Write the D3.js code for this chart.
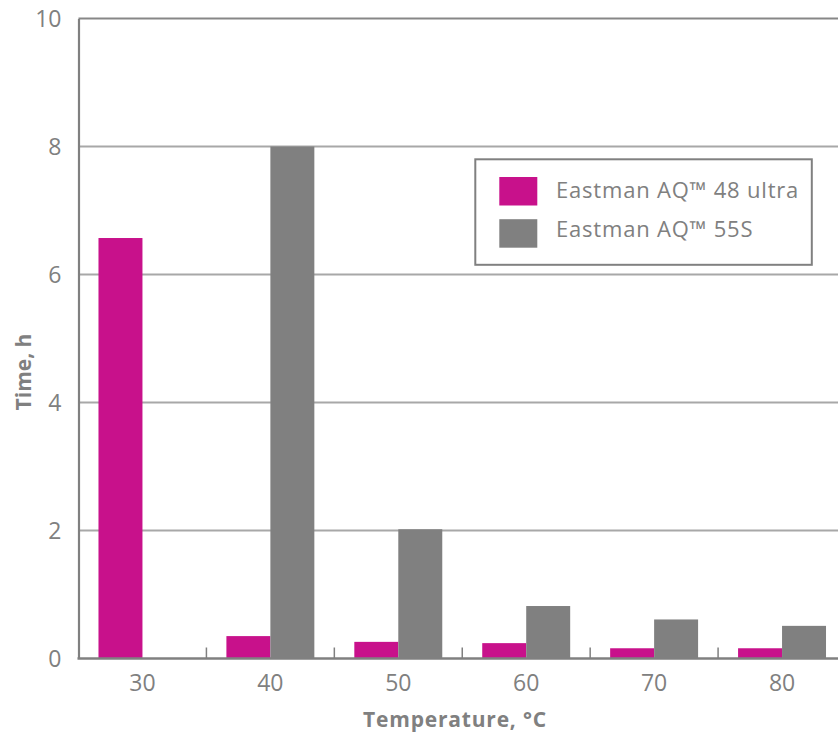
<!DOCTYPE html>
<html><head><meta charset="utf-8">
<script src="https://cdn.jsdelivr.net/npm/d3@7"></script>
<style>html,body{margin:0;padding:0;background:#fff;overflow:hidden}svg{display:block}</style>
</head><body>
<svg id="c" width="838" height="738"></svg>
<script>
const categories = ["30","40","50","60","70","80"];
const seriesNames = ["Eastman AQ™ 48 ultra","Eastman AQ™ 55S"];
const ultra48 = [6.57, 0.35, 0.26, 0.24, 0.16, 0.16];
const s55 = [0, 8.0, 2.02, 0.82, 0.61, 0.51];
const yTicks = [0, 2, 4, 6, 8, 10];
const colors = ["#C8118B", "#808080"];

(function () {
const FONT = "'Open Sans', sans-serif";
const svg = d3.select("#c");
const pLeft = 78.5, pRight = 846, pTop = 18.5, pBottom = 658.5;

const x = d3.scaleBand().domain(categories).range([pLeft, pRight]).padding(0);
const xs = d3.scaleBand().domain(seriesNames).range([0, x.bandwidth()]).paddingInner(0).paddingOuter(0.4545);
const y = d3.scaleLinear().domain([0, 10]).range([pBottom, pTop]);

// gridlines
svg.append("g").selectAll("line").data(yTicks.filter(t => t > 0 && t < 10)).join("line")
  .attr("x1", pLeft).attr("x2", 838).attr("y1", d => y(d)).attr("y2", d => y(d))
  .attr("stroke", "#A8A8A8").attr("stroke-width", 2);
// top frame
svg.append("line").attr("x1", pLeft).attr("x2", 838).attr("y1", y(10)).attr("y2", y(10))
  .attr("stroke", "#878787").attr("stroke-width", 2.2);

// bars
const data = categories.map((c, i) => ({c, vals: [ultra48[i], s55[i]]}));
const g = svg.append("g").selectAll("g").data(data).join("g")
  .attr("transform", d => `translate(${x(d.c)},0)`);
g.selectAll("rect").data(d => d.vals.map((v, j) => ({v, s: seriesNames[j], j}))).join("rect")
  .attr("x", d => xs(d.s)).attr("width", xs.bandwidth())
  .attr("y", d => y(d.v)).attr("height", d => y(0) - y(d.v))
  .attr("fill", d => colors[d.j]);

// y axis
const yAxis = d3.axisLeft(y).tickValues(yTicks).tickSize(0).tickPadding(17).tickFormat(d3.format("d"));
const ya = svg.append("g").attr("transform", `translate(${pLeft},0)`).call(yAxis);
ya.select(".domain").attr("stroke", "#808080").attr("stroke-width", 2.2);
ya.selectAll("text").attr("font-family", FONT).attr("font-size", 23).attr("fill", "#808080").attr("dy", "0.35em");

// x axis
const xAxis = d3.axisBottom(x).tickSize(0).tickPadding(16);
const xa = svg.append("g").attr("transform", `translate(0,${pBottom})`).call(xAxis);
xa.select(".domain").remove();
xa.selectAll("text").attr("font-family", FONT).attr("font-size", 23).attr("fill", "#808080");
svg.append("line").attr("x1", pLeft - 1).attr("x2", 838).attr("y1", pBottom).attr("y2", pBottom)
  .attr("stroke", "#808080").attr("stroke-width", 2.4);
// boundary ticks
svg.append("g").selectAll("line").data(categories.slice(1)).join("line")
  .attr("x1", d => x(d)).attr("x2", d => x(d)).attr("y1", pBottom).attr("y2", pBottom - 11)
  .attr("stroke", "#808080").attr("stroke-width", 1.5);

// axis titles
svg.append("text").attr("x", 455).attr("y", 727).attr("text-anchor", "middle")
  .attr("font-family", FONT).attr("font-weight", "bold").attr("font-size", 21).attr("letter-spacing", 0.8).attr("fill", "#808080")
  .text("Temperature, °C");
svg.append("text").attr("transform", "translate(31,372) rotate(-90)").attr("text-anchor", "middle")
  .attr("font-family", FONT).attr("font-weight", "bold").attr("font-size", 21).attr("fill", "#808080")
  .text("Time, h");

// legend
const lg = svg.append("g");
lg.append("rect").attr("x", 475.3).attr("y", 159.3).attr("width", 336.5).attr("height", 105.5)
  .attr("fill", "#fff").attr("stroke", "#808080").attr("stroke-width", 2);
seriesNames.forEach((s, i) => {
  lg.append("rect").attr("x", 499.3).attr("y", 177 + i * 42.2).attr("width", 38).attr("height", 28.5).attr("fill", colors[i]);
  lg.append("text").attr("x", 556).attr("y", 198.3 + i * 39).attr("font-family", FONT).attr("font-size", 22)
    .attr("letter-spacing", 0.8).attr("fill", "#808080").text(s);
});
})();
</script>
</body></html>
